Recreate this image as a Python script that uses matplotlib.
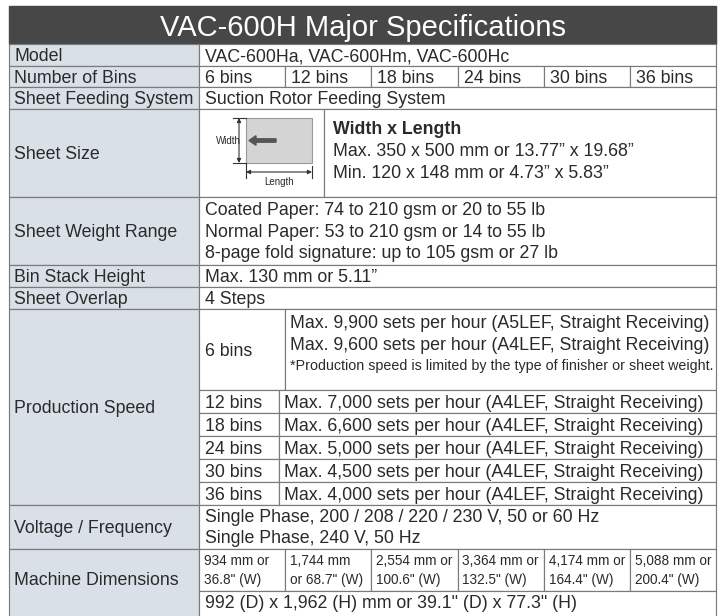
import matplotlib.pyplot as plt
from matplotlib.patches import Rectangle, FancyArrow

# ---- table content ----
title = "VAC-600H Major Specifications"
labels = ["Model", "Number of Bins", "Sheet Feeding System", "Sheet Size",
          "Sheet Weight Range", "Bin Stack Height", "Sheet Overlap",
          "Production Speed", "Voltage / Frequency", "Machine Dimensions"]
model_text = "VAC-600Ha, VAC-600Hm, VAC-600Hc"
bins = ["6 bins", "12 bins", "18 bins", "24 bins", "30 bins", "36 bins"]
feeding = "Suction Rotor Feeding System"
size_head = "Width x Length"
size_lines = ["Max. 350 x 500 mm or 13.77\u201d x 19.68\u201d",
              "Min. 120 x 148 mm or 4.73\u201d x 5.83\u201d"]
weight_lines = ["Coated Paper: 74 to 210 gsm or 20 to 55 lb",
                "Normal Paper: 53 to 210 gsm or 14 to 55 lb",
                "8-page fold signature: up to 105 gsm or 27 lb"]
stack_height = "Max. 130 mm or 5.11\u201d"
overlap = "4 Steps"
speed_6bins = ["Max. 9,900 sets per hour (A5LEF, Straight Receiving)",
               "Max. 9,600 sets per hour (A4LEF, Straight Receiving)"]
speed_note = "*Production speed is limited by the type of finisher or sheet weight."
speeds = ["7,000", "6,600", "5,000", "4,500", "4,000"]   # 12..36 bins
voltage_lines = ["Single Phase, 200 / 208 / 220 / 230 V, 50 or 60 Hz",
                 "Single Phase, 240 V, 50 Hz"]
dim_top = ["934 mm or", "1,744 mm", "2,554 mm or", "3,364 mm or", "4,174 mm or", "5,088 mm or"]
dim_bottom = ['36.8" (W)', 'or 68.7" (W)', '100.6" (W)', '132.5" (W)', '164.4" (W)', '200.4" (W)']
depth_height = '992 (D) x 1,962 (H) mm or 39.1" (D) x 77.3" (H)'

# ---- layout (pixels) ----
X0, XL, X1 = 9, 199, 716
colw = (X1 - XL) / 6.0
cols = [XL + i * colw for i in range(7)]
SUB6, SUBN = 285, 279
y_title = (6, 44)
y_rows = [44, 65.5, 87, 108.5, 197, 265, 287, 309, 505, 549, 622]
y_speed = [309, 390, 413, 436, 459, 482, 505]
y_dim_split = 591

LABEL_BG = "#d9e0e7"
EDGE = "#7a7a7a"
TXT = "#2a2a2a"
FS = 12.8
FONT = ["Liberation Sans", "DejaVu Sans"]

fig = plt.figure(figsize=(7.27, 6.16), dpi=100)
ax = fig.add_axes([0, 0, 1, 1])
ax.set_xlim(0, 727)
ax.set_ylim(616, 0)
ax.axis("off")


def cell(x0, x1, y0, y1, fill="white", lw=0.85):
    ax.add_patch(Rectangle((x0, y0), x1 - x0, y1 - y0, facecolor=fill,
                           edgecolor=EDGE, linewidth=lw, zorder=1))


def txt(x, y, s, size=FS, **kw):
    # y is the visual middle of the capitals; place the baseline below it
    base = y + 0.358 * size * 100 / 72
    ax.text(x, base, s, fontsize=size, family=FONT, color=kw.pop("color", TXT),
            va="baseline", ha=kw.pop("ha", "left"), zorder=3, **kw)


# title bar
ax.add_patch(Rectangle((X0, y_title[0]), X1 - X0, y_title[1] - y_title[0],
                       facecolor="#474747", edgecolor="#474747", zorder=1))
txt((X0 + X1) / 2, 25.5, title, size=21, color="white", ha="center")

# label column
for i, lab in enumerate(labels):
    y0, y1 = y_rows[i], y_rows[i + 1]
    cell(X0, XL, y0, y1, LABEL_BG)
    yc = (y0 + y1) / 2 if i < len(labels) - 1 else 579
    txt(X0 + 5, yc, lab)

# Model
cell(XL, X1, y_rows[0], y_rows[1])
txt(XL + 6, (y_rows[0] + y_rows[1]) / 2, model_text)

# Number of bins
for j, b in enumerate(bins):
    cell(cols[j], cols[j + 1], y_rows[1], y_rows[2])
    txt(cols[j] + 6, (y_rows[1] + y_rows[2]) / 2, b)

# Feeding
cell(XL, X1, y_rows[2], y_rows[3])
txt(XL + 6, (y_rows[2] + y_rows[3]) / 2, feeding)

# Sheet size
SS = 324
cell(XL, SS, y_rows[3], y_rows[4])
cell(SS, X1, y_rows[3], y_rows[4])
txt(SS + 9, 128, size_head, weight="bold")
for k, s in enumerate(size_lines):
    txt(SS + 9, 150 + 21.5 * k, s)
# little sheet diagram
rx0, rx1, ry0, ry1 = 246, 312, 118, 163
ax.add_patch(Rectangle((rx0, ry0), rx1 - rx0, ry1 - ry0, facecolor="#d4d4d4",
                       edgecolor="#9a9a9a", linewidth=0.8, zorder=2))
ax.add_patch(FancyArrow(276, 140.5, -20, 0, width=3.4, head_width=9.5, head_length=7,
                        length_includes_head=False, color="#555555", zorder=3))
ax.annotate("", xy=(239, ry0), xytext=(239, ry1),
            arrowprops=dict(arrowstyle="<|-|>", color="#333333", lw=0.8,
                            mutation_scale=6, shrinkA=0, shrinkB=0), zorder=3)
ax.plot([233, rx0], [ry0, ry0], color="#333333", lw=0.8, zorder=3)
ax.plot([233, rx0], [ry1, ry1], color="#333333", lw=0.8, zorder=3)
ax.annotate("", xy=(rx0, 172), xytext=(rx1, 172),
            arrowprops=dict(arrowstyle="<|-|>", color="#333333", lw=0.8,
                            mutation_scale=6, shrinkA=0, shrinkB=0), zorder=3)
ax.plot([rx0, rx0], [ry1, 178], color="#333333", lw=0.8, zorder=3)
ax.plot([rx1, rx1], [166, 178], color="#333333", lw=0.8, zorder=3)
txt(228, 140.5, "Width", size=7, ha="center")
txt(279, 182, "Length", size=7, ha="center")

# Weight
cell(XL, X1, y_rows[4], y_rows[5])
for k, s in enumerate(weight_lines):
    txt(XL + 6, 209 + 21.3 * k, s)

# Stack height / overlap
cell(XL, X1, y_rows[5], y_rows[6])
txt(XL + 6, (y_rows[5] + y_rows[6]) / 2, stack_height)
cell(XL, X1, y_rows[6], y_rows[7])
txt(XL + 6, (y_rows[6] + y_rows[7]) / 2, overlap)

# Production speed
cell(XL, SUB6, y_speed[0], y_speed[1])
cell(SUB6, X1, y_speed[0], y_speed[1])
txt(XL + 6, (y_speed[0] + y_speed[1]) / 2, bins[0])
txt(SUB6 + 5, 322, speed_6bins[0])
txt(SUB6 + 5, 344, speed_6bins[1])
txt(SUB6 + 5, 365, speed_note, size=10.3)
for k, sp in enumerate(speeds):
    y0, y1 = y_speed[k + 1], y_speed[k + 2]
    cell(XL, SUBN, y0, y1)
    cell(SUBN, X1, y0, y1)
    txt(XL + 6, (y0 + y1) / 2, bins[k + 1])
    txt(SUBN + 5, (y0 + y1) / 2,
        "Max. %s sets per hour (A4LEF, Straight Receiving)" % sp)

# Voltage
cell(XL, X1, y_rows[8], y_rows[9])
for k, s in enumerate(voltage_lines):
    txt(XL + 6, 516 + 21 * k, s)

# Machine dimensions
for j in range(6):
    cell(cols[j], cols[j + 1], y_rows[9], y_dim_split)
    txt(cols[j] + 5, 560, dim_top[j], size=9.8)
    txt(cols[j] + 5, 579, dim_bottom[j], size=9.8)
cell(XL, X1, y_dim_split, y_rows[10])
txt(XL + 6, 602, depth_height)

fig.savefig("out.png", dpi=100)
